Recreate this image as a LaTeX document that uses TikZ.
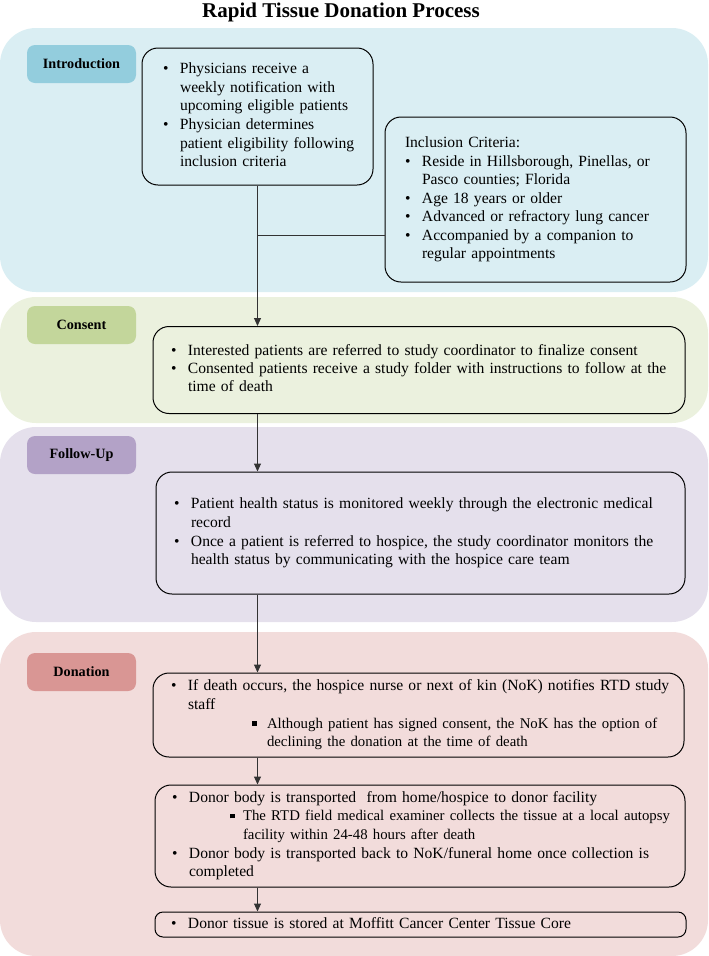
\documentclass[tikz,border=0pt]{standalone}
\usepackage{fontspec}
\setmainfont{Liberation Serif}
\usetikzlibrary{arrows.meta}

\definecolor{introband}{HTML}{DAEEF3}
\definecolor{introtab}{HTML}{93CDDD}
\definecolor{consentband}{HTML}{EBF1DE}
\definecolor{consenttab}{HTML}{C3D69B}
\definecolor{followband}{HTML}{E5E0EC}
\definecolor{followtab}{HTML}{B3A2C7}
\definecolor{donband}{HTML}{F2DCDB}
\definecolor{dontab}{HTML}{D99694}

\setlength{\parindent}{0pt}
\setlength{\parskip}{0pt}
\setlength{\lineskip}{0pt}
\hfuzz=40pt
\newcommand{\bul}[1]{\makebox[17pt][l]{\textbullet}\begin{tabular}[t]{@{}l@{}}#1\end{tabular}\par}
\newcommand{\subbul}[3]{\hspace*{#1}\makebox[#2][l]{\rule[2.5pt]{4.8pt}{4.8pt}}%
    {\fontsize{14.8}{18.3}\selectfont\begin{tabular}[t]{@{}l@{}}#3\end{tabular}}\par}

\tikzset{
    band/.style={rounded corners=36pt},
    tab/.style={rounded corners=8pt, minimum width=109pt, minimum height=38pt, inner sep=0pt,
        font=\fontsize{14.2}{17}\selectfont\bfseries},
    stepbox/.style={draw, line width=1pt, rounded corners=16pt, align=left, inner ysep=0pt,
        font=\fontsize{15.6}{18.3}\selectfont},
    link/.style={line width=1pt, draw=black!80},
    arr/.style={link, -{Triangle[length=8pt,width=7pt]}}
}

\begin{document}
\begin{tikzpicture}[x=1pt,y=-1pt]
    \useasboundingbox (0,0) rectangle (709,956);
    \fill[introband, band] (0,28) rectangle (708,292);
    \fill[consentband, band] (0,297) rectangle (708,423);
    \fill[followband, band] (0,427) rectangle (708,622);
    \fill[donband, band] (0,632) rectangle (708,956);

    \node[font=\fontsize{21}{25}\selectfont\bfseries] (title) at (341,12) {Rapid Tissue Donation Process};

    \node[tab, fill=introtab] (intro) at (81.5,64) {Introduction};
    \node[tab, fill=consenttab] (consent) at (81.5,325) {Consent};
    \node[tab, fill=followtab] (follow) at (81.5,455) {Follow-Up};
    \node[tab, fill=dontab] (donation) at (81.5,672) {Donation};

    \node[stepbox, text width=189pt, inner xsep=21pt, minimum height=137pt] (notify) at (257.5,116.5) {%
        \bul{Physicians receive a\\weekly notification with\\upcoming eligible patients}%
        \bul{Physician determines\\patient eligibility following\\inclusion criteria}};
    \node[stepbox, text width=261pt, inner xsep=20pt, minimum height=165pt] (criteria) at (535.5,199.5) {%
        \strut Inclusion Criteria:\par
        \bul{Reside in Hillsborough, Pinellas, or\\Pasco counties; Florida}%
        \bul{Age 18 years or older}%
        \bul{Advanced or refractory lung cancer}%
        \bul{Accompanied by a companion to\\regular appointments}};
    \node[stepbox, text width=496pt, inner xsep=18pt, minimum height=87pt] (agree) at (419,370) {%
        \bul{Interested patients are referred to study coordinator to finalize consent}%
        \bul{Consented patients receive a study folder with instructions to follow at the\\time of death}};
    \node[stepbox, text width=493pt, inner xsep=18pt, minimum height=122pt] (monitor) at (420.5,533) {%
        \bul{Patient health status is monitored weekly through the electronic medical\\record}%
        \bul{Once a patient is referred to hospice, the study coordinator monitors the\\health status by communicating with the hospice care team}};
    \node[stepbox, text width=495pt, inner xsep=18pt, minimum height=84pt] (death) at (418.5,715) {%
        \bul{If death occurs, the hospice nurse or next of kin (NoK) notifies RTD study\\staff}%
        \subbul{81pt}{15pt}{Although patient has signed consent, the NoK has the option of\\declining the donation at the time of death}};
    \node[stepbox, text width=496pt, inner xsep=17pt, minimum height=102pt] (transport) at (420,836) {%
        \bul{Donor body is transported~ from home/hospice to donor facility}%
        \subbul{58pt}{13pt}{The RTD field medical examiner collects the tissue at a local autopsy\\facility within 24-48 hours after death}%
        \bul{Donor body is transported back to NoK/funeral home once collection is\\completed}};
    \node[stepbox, rounded corners=8pt, text width=499pt, inner xsep=16pt, minimum height=25pt] (store) at (420.5,924.5) {%
        \bul{Donor tissue is stored at Moffitt Cancer Center Tissue Core}};

    \coordinate (split) at (257.5,235);
    \draw[arr] (notify.south) -- (notify.south |- agree.north);
    \draw[link] (split) -- (split -| criteria.west);
    \draw[arr] (agree.south -| notify.south) -- (monitor.north -| notify.south);
    \draw[arr] (monitor.south -| notify.south) -- (death.north -| notify.south);
    \draw[arr] (death.south -| notify.south) -- (transport.north -| notify.south);
    \draw[arr] (transport.south -| notify.south) -- (store.north -| notify.south);
\end{tikzpicture}
\end{document}
